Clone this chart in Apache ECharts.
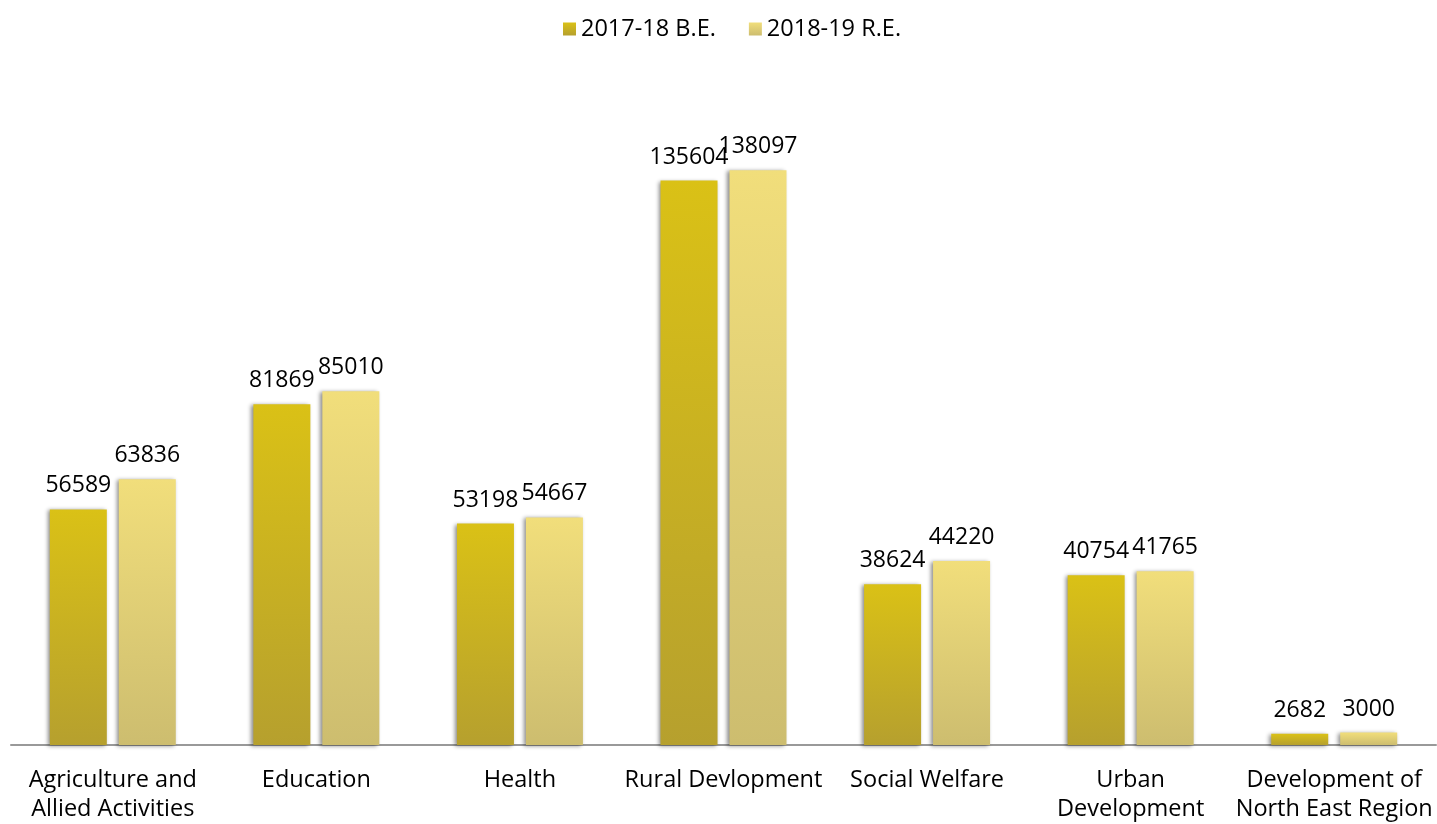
<!DOCTYPE html>
<html><head><meta charset="utf-8">
<script src="https://cdn.jsdelivr.net/npm/echarts@6/dist/echarts.min.js"></script>
<style>html,body{margin:0;padding:0;background:#fff}#c{width:1437px;height:824px}</style>
</head><body><div id="c"></div>
<script>
const categories = ["Agriculture and\nAllied Activities","Education","Health","Rural Devlopment","Social Welfare","Urban\nDevelopment","Development of\nNorth East Region"];
const seriesNames = ["2017-18 B.E.","2018-19 R.E."];
const be2017 = [56589,81869,53198,135604,38624,40754,2682];
const re2018 = [63836,85010,54667,138097,44220,41765,3000];

const FONT = '"Open Sans", "Noto Sans", sans-serif';
function grad(top, bottom){
  return new echarts.graphic.LinearGradient(0,0,0,1,[{offset:0,color:top},{offset:1,color:bottom}],false);
}
const chart = echarts.init(document.getElementById('c'));
const itemShadow = {shadowColor:'rgba(0,0,0,0.45)',shadowBlur:4,shadowOffsetX:-2,shadowOffsetY:1};
chart.setOption({
  animation:false,
  legend:{top:12,left:558,itemWidth:13,itemHeight:13,itemGap:33,icon:'rect',
    textStyle:{fontFamily:FONT,fontSize:23.5,color:'#000'}},
  grid:{left:11,right:1,top:79,bottom:79,containLabel:false},
  xAxis:{type:'category',data:categories,
    axisLine:{lineStyle:{color:'#999',width:2}},axisTick:{show:false},
    axisLabel:{fontFamily:FONT,fontSize:23.5,color:'#000',lineHeight:29,margin:21,interval:0}},
  yAxis:{type:'value',min:0,max:160000,show:false,splitLine:{show:false}},
  series:[
    {name:seriesNames[0],type:'bar',data:be2017,barWidth:57,barGap:'21%',
     itemStyle:Object.assign({color:grad('#dac116','#b6a02e')},itemShadow),
     label:{show:true,position:'top',distance:12,fontFamily:FONT,fontSize:23,color:'#000'}},
    {name:seriesNames[1],type:'bar',data:re2018,barWidth:57,
     itemStyle:Object.assign({color:grad('#f1de7b','#cdbd6f')},itemShadow),
     label:{show:true,position:'top',distance:12,fontFamily:FONT,fontSize:23,color:'#000'}}
  ]
});
</script></body></html>
